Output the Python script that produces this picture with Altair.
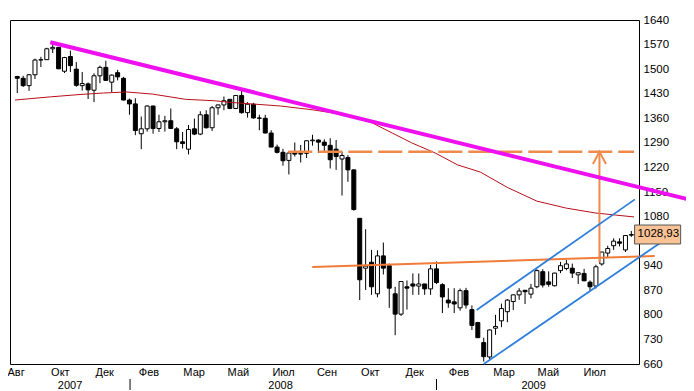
import altair as alt
import pandas as pd

# Weekly candles (Aug 2007 – Aug 2009), index = week number
opens = [1479, 1474, 1453, 1484, 1526, 1527, 1558, 1562, 1494, 1536,
         1500, 1453, 1458, 1440, 1481, 1505, 1463, 1490, 1474, 1412,
         1401, 1316, 1330, 1395, 1331, 1350, 1353, 1330, 1293, 1272,
         1330, 1315, 1370, 1333, 1390, 1398, 1414, 1388, 1425, 1376,
         1400, 1361, 1360, 1318, 1278, 1263, 1240, 1261, 1258, 1260,
         1296, 1298, 1292, 1283, 1272, 1244, 1248, 1213, 1075, 933,
         950, 860, 968, 940, 860, 802, 880, 888, 882, 888,
         874, 931, 886, 842, 837, 820, 869, 815, 778, 721,
         680, 762, 783, 809, 838, 857, 870, 859, 880, 923,
         894, 883, 926, 932, 933, 914, 918, 893, 882, 945,
         976, 997, 1008, 985, 1027]
highs = [1481, 1481, 1486, 1530, 1535, 1561, 1576, 1563, 1535, 1553,
         1520, 1492, 1462, 1488, 1510, 1524, 1485, 1498, 1478, 1416,
         1417, 1365, 1397, 1396, 1370, 1367, 1388, 1335, 1321, 1341,
         1359, 1380, 1383, 1395, 1399, 1422, 1415, 1426, 1440, 1406,
         1404, 1370, 1370, 1326, 1285, 1273, 1266, 1291, 1284, 1297,
         1313, 1300, 1300, 1303, 1298, 1265, 1255, 1215, 1075, 1044,
         985, 984, 1006, 946, 880, 896, 898, 918, 918, 888,
         942, 952, 890, 876, 876, 875, 877, 827, 780, 735,
         758, 800, 832, 845, 858, 876, 871, 888, 930, 930,
         924, 920, 951, 956, 946, 922, 931, 898, 943, 979,
         997, 1018, 1018, 1027, 1039]
lows = [1432, 1449, 1438, 1472, 1506, 1526, 1546, 1500, 1489, 1492,
        1450, 1439, 1415, 1406, 1460, 1467, 1435, 1468, 1411, 1370,
        1312, 1272, 1322, 1316, 1321, 1322, 1330, 1272, 1274, 1257,
        1312, 1312, 1331, 1324, 1370, 1383, 1386, 1386, 1373, 1362,
        1359, 1326, 1317, 1278, 1260, 1225, 1200, 1251, 1234, 1247,
        1282, 1261, 1263, 1217, 1213, 1140, 1179, 1097, 842, 871,
        857, 850, 915, 820, 742, 797, 815, 857, 857, 857,
        857, 888, 805, 820, 805, 812, 818, 757, 734, 667,
        672, 743, 765, 779, 814, 843, 831, 847, 876, 878,
        880, 881, 919, 927, 905, 888, 896, 869, 875, 940,
        963, 985, 995, 979, 1022]
closes = [1474, 1453, 1484, 1526, 1527, 1558, 1562, 1501, 1533, 1510,
          1454, 1459, 1441, 1481, 1505, 1468, 1483, 1478, 1412, 1401,
          1325, 1330, 1395, 1331, 1350, 1353, 1331, 1293, 1288, 1328,
          1315, 1370, 1333, 1390, 1398, 1410, 1388, 1425, 1376, 1400,
          1361, 1360, 1318, 1278, 1263, 1239, 1261, 1258, 1260, 1296,
          1298, 1292, 1283, 1242, 1251, 1254, 1213, 1100, 900, 939,
          880, 968, 933, 876, 802, 895, 876, 882, 888, 874,
          931, 892, 851, 834, 831, 869, 828, 770, 735, 681,
          757, 767, 818, 842, 857, 868, 866, 876, 926, 885,
          887, 919, 940, 945, 919, 920, 897, 880, 937, 979,
          989, 1010, 1004, 1026, 1028.93]

# Moving average (red)
ma_idx = [-0.38, 5.6, 10.8, 14.6, 18.5, 22.9, 28.5, 33.4, 36.3, 44.6, 50.1,
          55.8, 60.1, 63.5, 66.8, 70.8, 74.6, 78.4, 83.0, 88.0, 93.0, 98.0, 104.45]
ma_val = [1412, 1421, 1428, 1432, 1435, 1429, 1414, 1410, 1405, 1395, 1384,
          1369, 1347, 1318, 1290, 1261, 1227, 1207, 1163, 1124, 1104, 1090, 1079]

# Trend lines
mag_idx = [5.6, 113.4]
mag_val = [1576.5, 1130]
dash_idx = [45.9, 104.45]
dash_val = [1265, 1265]
orange_idx = [49.95, 107.95]
orange_val = [936, 968]
arrow_idx = [98.6, 98.6]
arrow_val = [950, 1265]
head_idx = [97.5, 98.6, 99.7]
head_val = [1230, 1265, 1230]
blue_up_idx = [77.8, 104.6]
blue_up_val = [814, 1129]
blue_lo_idx = [79.0, 110.1]
blue_lo_val = [660, 1019]

# Axis labels
y_ticks = [660, 730, 800, 870, 940, 1080, 1150, 1220, 1290, 1360, 1430, 1500, 1570, 1640]
month_labels = ["Авг", "Окт", "Дек", "Фев", "Мар", "Май", "Июл", "Сен",
                "Окт", "Дек", "Фев", "Мар", "Май", "Июл"]
month_pos = [-0.2, 7.3, 14.8, 22.3, 29.95, 37.45, 45.1, 52.45, 59.8, 67.3, 74.8, 82.45, 89.95, 97.8]
year_labels = ["2007", "2008", "2009"]
year_pos = [8.95, 44.6, 87.45]
sep_pos = [19.1, 71.0]

FONT = "Liberation Sans"
XMIN, XMAX = -0.383, 104.45
xscale = alt.Scale(domain=[XMIN, XMAX], nice=False, zero=False)
yscale = alt.Scale(domain=[660, 1640], nice=False, zero=False)
yaxis = alt.Axis(orient="right", values=y_ticks, format="d", ticks=False, domain=False, grid=False,
                 labelPadding=4, labelFontSize=11.5, labelFont=FONT, labelColor="black",
                 labelOverlap=False, title=None)


def X(f):
    return alt.X(f, type="quantitative", scale=xscale, axis=None)


def Y(f):
    return alt.Y(f, type="quantitative", scale=yscale, axis=yaxis)


df = pd.DataFrame({"idx": list(range(len(opens))), "open": opens, "high": highs,
                   "low": lows, "close": closes})
df["up"] = df["close"] >= df["open"]

wicks = alt.Chart(df).mark_rule(color="black", strokeWidth=1).encode(
    x=X("idx"), y=Y("low"), y2="high")
bodies = alt.Chart(df).mark_bar(size=4, stroke="black", strokeWidth=1).encode(
    x=X("idx"), y=Y("open"), y2="close",
    fill=alt.condition("datum.up", alt.value("white"), alt.value("black")))


def line(ix, vals, color, width, dash=None):
    d = pd.DataFrame({"idx": ix, "val": vals, "o": list(range(len(ix)))})
    kw = dict(color=color, strokeWidth=width, clip=False)
    if dash:
        kw["strokeDash"] = dash
    return alt.Chart(d).mark_line(**kw).encode(x=X("idx"), y=Y("val"), order="o")


ma = line(ma_idx, ma_val, "#B8101A", 1)
orange = line(orange_idx, orange_val, "#F07C3A", 2)
dashed = line(dash_idx, dash_val, "#F08A4B", 2.5, [24, 6])
arrow = line(arrow_idx, arrow_val, "#F08A4B", 2)
head = line(head_idx, head_val, "#F08A4B", 2)
blue_up = line(blue_up_idx, blue_up_val, "#2E7FDB", 1.8)
blue_lo = line(blue_lo_idx, blue_lo_val, "#2E7FDB", 1.8)
magenta = line(mag_idx, mag_val, "#EE10EE", 4)

last = closes[-1]
box_df = pd.DataFrame({"x0": [XMAX + 0.1], "x1": [XMAX + 7.9],
                       "y0": [last - 27], "y1": [last + 27], "yc": [last],
                       "label": [f"{last:.2f}".replace(".", ",")]})
box = alt.Chart(box_df).mark_rect(fill="#F9C395", stroke="#555555", strokeWidth=1, clip=False).encode(
    x=X("x0"), x2="x1", y=Y("y0"), y2="y1")
box_text = alt.Chart(box_df).mark_text(
    align="left", baseline="middle", font=FONT, fontSize=11.5, color="black", dx=3).encode(
    x=X("x0"), y=Y("yc"), text="label")

mdf = pd.DataFrame({"pos": month_pos, "label": month_labels})
months = alt.Chart(mdf).mark_text(font=FONT, fontSize=11, color="black", baseline="middle").encode(
    x=X("pos"), y=alt.value(353), text="label")
ydf = pd.DataFrame({"pos": year_pos, "label": year_labels})
years = alt.Chart(ydf).mark_text(font=FONT, fontSize=11, color="black", baseline="middle").encode(
    x=X("pos"), y=alt.value(366), text="label")
sdf = pd.DataFrame({"pos": sep_pos})
seps = alt.Chart(sdf).mark_rule(color="black", strokeWidth=1).encode(
    x=X("pos"), y=alt.value(359), y2=alt.value(370))

chart = alt.layer(
    wicks, bodies, ma, orange, dashed, arrow, head, blue_up, blue_lo, magenta,
    box, box_text, months, years, seps
).properties(
    width=629, height=344,
    autosize=alt.AutoSizeParams(type="none"),
    padding={"left": 2, "top": 12, "right": 47, "bottom": 27},
    background="white"
).configure_view(stroke="black", strokeWidth=1)

chart.save("out.html", embed_options={"renderer": "svg", "actions": False})
